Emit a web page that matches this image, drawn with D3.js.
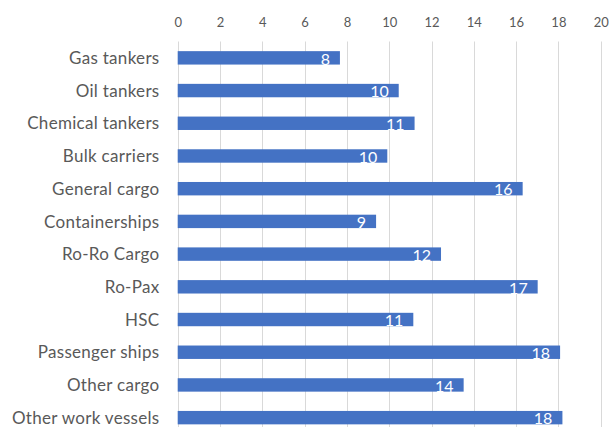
<!DOCTYPE html>
<html>
<head>
<meta charset="utf-8">
<script src="https://cdn.jsdelivr.net/npm/d3@7"></script>
<style>
  html, body { margin: 0; padding: 0; background: #fff; }
  svg { display: block; }
</style>
</head>
<body>
<svg id="chart" width="609" height="427"></svg>
<script>
const categories = ["Gas tankers","Oil tankers","Chemical tankers","Bulk carriers","General cargo","Containerships","Ro-Ro Cargo","Ro-Pax","HSC","Passenger ships","Other cargo","Other work vessels"];
const values = [7.67, 10.45, 11.2, 9.91, 16.31, 9.38, 12.45, 17.02, 11.14, 18.08, 13.52, 18.19];
const labels = ["8","10","11","10","16","9","12","17","11","18","14","18"];
const xTicks = [0,2,4,6,8,10,12,14,16,18,20];

(function () {
const svg = d3.select("#chart");
const font = "Lato, 'Open Sans', sans-serif";
const pLeft = 177.7, pRight = 600.7, pTop = 41.5, pBottom = 434;

const x = d3.scaleLinear().domain([0, 20]).range([pLeft, pRight]);
const y = d3.scaleBand().domain(categories).range([pTop, pBottom]).paddingInner(0.59).paddingOuter(0.295);

// gridlines
svg.append("g").selectAll("line").data(xTicks).join("line")
  .attr("x1", d => Math.round(x(d)) + 0.5).attr("x2", d => Math.round(x(d)) + 0.5)
  .attr("y1", pTop).attr("y2", 427)
  .attr("stroke", "#d9d9d9").attr("stroke-width", 1);

// top axis labels
const xAxis = d3.axisTop(x).tickValues(xTicks).tickSize(0).tickPadding(0);
const gx = svg.append("g").attr("transform", "translate(0,27)").call(xAxis);
gx.select(".domain").remove();
gx.selectAll("text").attr("fill", "#595959").style("font-family", font).style("font-size", "13px");

// category labels
const yAxis = d3.axisLeft(y).tickSize(0).tickPadding(0);
const gy = svg.append("g").attr("transform", "translate(159.5,0)").call(yAxis);
gy.select(".domain").remove();
gy.selectAll("text").attr("fill", "#595959").style("font-family", font)
  .style("font-size", "17px").style("letter-spacing", "0.3px").attr("dy", "0.36em");

// bars
const data = categories.map((c, i) => ({c, v: values[i], l: labels[i]}));
svg.append("g").selectAll("rect").data(data).join("rect")
  .attr("x", x(0)).attr("y", d => y(d.c))
  .attr("width", d => x(d.v) - x(0)).attr("height", y.bandwidth())
  .attr("fill", "#4472C4");

// data labels
svg.append("g").selectAll("text").data(data).join("text")
  .attr("x", d => x(d.v) - 10).attr("y", d => y(d.c) + y.bandwidth() / 2)
  .attr("dy", "0.42em").attr("text-anchor", "end")
  .attr("fill", "#ffffff").style("font-family", font).style("font-size", "16px")
  .text(d => d.l);
})();
</script>
</body>
</html>
